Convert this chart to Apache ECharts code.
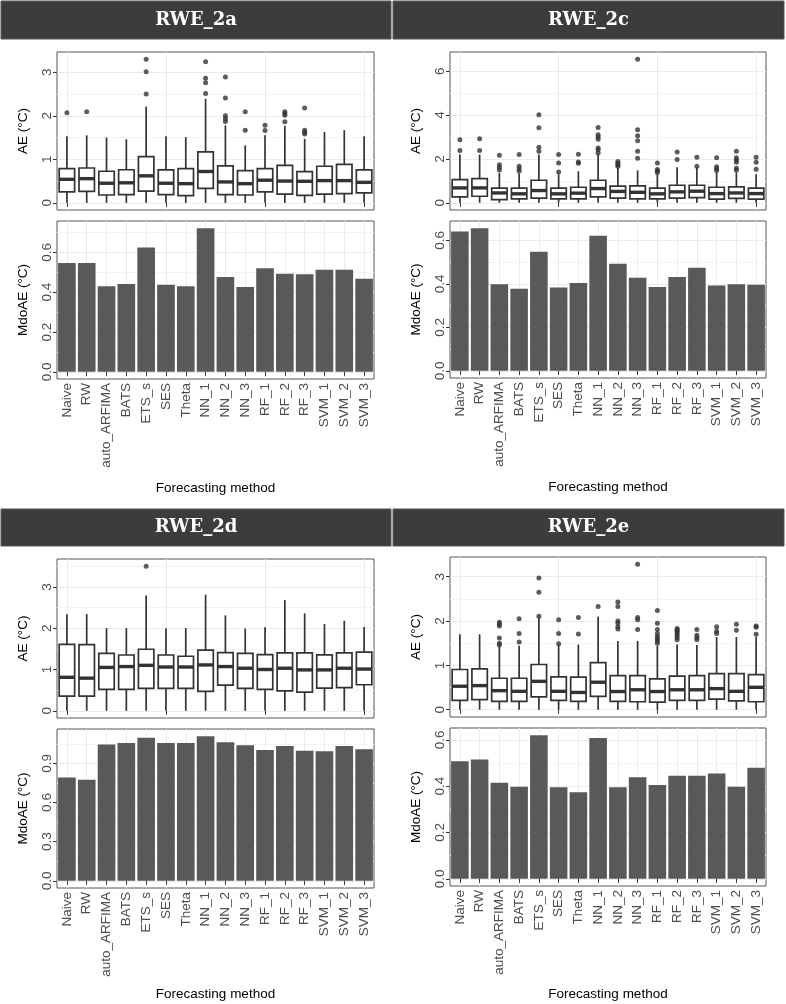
<!DOCTYPE html>
<html>
<head>
<meta charset="utf-8">
<script src="https://cdn.jsdelivr.net/npm/echarts@6/dist/echarts.min.js"></script>
<style>
html,body{margin:0;padding:0;background:#fff;}
#chart{width:786px;height:1004px;}
</style>
</head>
<body>
<div id="chart"></div>
<script>
// ---------------- DATA ----------------
const categories = ['Naive','RW','auto_ARFIMA','BATS','ETS_s','SES','Theta','NN_1','NN_2','NN_3','RF_1','RF_2','RF_3','SVM_1','SVM_2','SVM_3'];
const panelTitles = ['RWE_2a','RWE_2c','RWE_2d','RWE_2e'];

// box stats per method: [lower whisker, Q1, median, Q3, upper whisker]
const box2a = [
  [0,0.25,0.54,0.785,1.53],[0,0.265,0.555,0.80,1.55],[0,0.18,0.45,0.725,1.50],[0,0.19,0.46,0.76,1.46],
  [0,0.27,0.62,1.06,2.21],[0,0.19,0.45,0.755,1.53],[0,0.165,0.44,0.785,1.51],[0,0.33,0.72,1.17,2.39],
  [0,0.19,0.48,0.85,1.78],[0,0.18,0.44,0.74,1.32],[0,0.25,0.52,0.785,1.55],[0,0.20,0.50,0.86,1.77],
  [0,0.17,0.495,0.715,1.47],[0,0.20,0.51,0.84,1.63],[0,0.21,0.51,0.885,1.67],[0,0.23,0.47,0.755,1.53]
];
const out2a = [[0,2.07],[1,2.09],[4,3.30],[4,3.01],[4,2.50],[7,3.24],[7,2.86],[7,2.76],[7,2.51],
  [8,2.89],[8,2.41],[8,2.00],[8,1.93],[8,1.87],[9,2.09],[9,1.67],[10,1.78],[10,1.66],
  [11,2.09],[11,2.05],[11,2.01],[11,1.86],[12,2.18],[12,1.67],[12,1.62],[12,1.58]];
const mdoae2a = [0.547,0.547,0.430,0.441,0.625,0.438,0.430,0.722,0.476,0.426,0.521,0.493,0.491,0.513,0.513,0.468];

const box2c = [
  [0,0.27,0.68,1.06,2.20],[0,0.30,0.68,1.10,2.20],[0,0.15,0.45,0.67,1.36],[0,0.18,0.41,0.67,1.35],
  [0,0.21,0.56,1.03,2.20],[0,0.18,0.41,0.67,1.30],[0,0.18,0.44,0.71,1.44],[0,0.27,0.65,1.03,2.20],
  [0,0.21,0.52,0.76,1.60],[0,0.18,0.48,0.77,1.48],[0,0.18,0.41,0.67,1.30],[0,0.21,0.50,0.80,1.62],
  [0,0.24,0.53,0.80,1.62],[0,0.17,0.42,0.71,1.40],[0,0.20,0.45,0.73,1.40],[0,0.17,0.42,0.67,1.30]
];
const out2c = [[0,2.88],[0,2.39],[1,2.92],[1,2.39],[2,2.17],[2,1.74],[2,1.62],[2,1.50],
  [3,2.20],[3,1.67],[3,1.55],[3,1.45],[4,4.02],[4,3.42],[4,2.53],[4,2.35],
  [5,2.20],[5,1.82],[5,1.41],[6,2.21],[6,1.86],[6,1.80],
  [7,3.44],[7,3.10],[7,3.00],[7,2.90],[7,2.50],[7,2.42],[7,2.27],
  [8,1.88],[8,1.80],[8,1.72],[8,1.67],[9,6.55],[9,3.33],[9,3.06],[9,2.83],[9,2.35],[9,2.03],
  [10,1.82],[10,1.52],[10,1.45],[10,1.38],[11,2.32],[11,1.97],[12,2.08],[12,1.67],
  [13,2.06],[13,1.65],[13,1.55],[13,1.47],[14,2.35],[14,2.05],[14,1.95],[14,1.85],[14,1.58],[14,1.50],
  [15,2.08],[15,1.85],[15,1.53]];
const mdoae2c = [0.641,0.656,0.398,0.377,0.547,0.383,0.404,0.621,0.492,0.428,0.386,0.431,0.474,0.392,0.398,0.396];

const box2d = [
  [0,0.355,0.81,1.61,2.34],[0,0.355,0.79,1.60,2.34],[0,0.52,1.05,1.39,2.00],[0,0.52,1.07,1.35,2.00],
  [0,0.54,1.10,1.49,2.79],[0,0.54,1.06,1.35,2.00],[0,0.54,1.06,1.32,2.00],[0,0.47,1.11,1.47,2.81],
  [0,0.62,1.07,1.41,2.31],[0,0.54,1.03,1.39,1.99],[0,0.52,1.00,1.36,2.02],[0,0.48,1.03,1.40,2.68],
  [0,0.45,0.99,1.40,2.36],[0,0.55,0.99,1.355,2.10],[0,0.56,1.03,1.40,2.18],[0,0.63,1.01,1.42,2.03]
];
const out2d = [[4,3.50]];
const mdoae2d = [0.792,0.774,1.044,1.056,1.097,1.056,1.056,1.108,1.062,1.038,1.003,1.033,0.997,0.992,1.033,1.008];

const box2e = [
  [0,0.21,0.53,0.907,1.70],[0,0.227,0.544,0.92,1.70],[0,0.19,0.43,0.71,1.42],[0,0.19,0.415,0.71,1.44],
  [0,0.29,0.64,1.02,2.08],[0,0.21,0.415,0.74,1.45],[0,0.19,0.39,0.733,1.47],[0,0.30,0.62,1.06,2.10],
  [0,0.19,0.41,0.77,1.55],[0,0.18,0.45,0.77,1.55],[0,0.17,0.41,0.695,1.44],[0,0.21,0.45,0.756,1.47],
  [0,0.21,0.45,0.77,1.46],[0,0.24,0.476,0.816,1.64],[0,0.20,0.415,0.816,1.64],[0,0.18,0.506,0.79,1.64]
];
const out2e = [[2,1.97],[2,1.93],[2,1.89],[2,1.62],[2,1.50],[2,1.46],[3,2.05],[3,1.72],[3,1.53],
  [4,2.97],[4,2.65],[4,2.11],[5,2.03],[5,1.72],[5,1.49],[6,2.08],[6,1.71],[7,2.33],
  [8,2.43],[8,2.33],[8,2.00],[8,1.95],[8,1.87],[8,1.82],[9,3.28],[9,2.08],[9,2.03],[9,1.81],
  [10,2.24],[10,1.95],[10,1.81],[10,1.72],[10,1.65],[10,1.60],[10,1.55],[10,1.50],
  [11,1.83],[11,1.80],[11,1.77],[11,1.73],[11,1.68],[11,1.63],[11,1.58],
  [12,1.81],[12,1.68],[12,1.63],[12,1.58],[13,1.87],[13,1.77],[13,1.72],[14,1.93],[14,1.79],
  [15,1.89],[15,1.86],[15,1.70]];
const mdoae2e = [0.508,0.515,0.415,0.397,0.620,0.395,0.374,0.608,0.395,0.438,0.405,0.445,0.445,0.455,0.397,0.479];

const boxTickStep = [1,2,1,1];
const barTickStep = [0.2,0.2,0.3,0.2];

// ---------------- LAYOUT ----------------
const panels = [
  {box:box2a, out:out2a, bar:mdoae2a, left:57, width:317, boxTop:52, boxH:158, barTop:221, barH:158, bar_x:1, bar_y:1, bar_w:390, bar_h:38, nameGap:102},
  {box:box2c, out:out2c, bar:mdoae2c, left:450, width:316, boxTop:52, boxH:158, barTop:221, barH:157, bar_x:393, bar_y:1, bar_w:391, bar_h:38, nameGap:102},
  {box:box2d, out:out2d, bar:mdoae2d, left:57, width:317, boxTop:559, boxH:159, barTop:729, barH:159, bar_x:1, bar_y:509, bar_w:390, bar_h:37, nameGap:99},
  {box:box2e, out:out2e, bar:mdoae2e, left:450, width:316, boxTop:557, boxH:160, barTop:728, barH:158, bar_x:393, bar_y:509, bar_w:391, bar_h:37, nameGap:101}
];

const FONT = 'Liberation Sans, Arial, sans-serif';
const grids = [], xAxes = [], yAxes = [], series = [], graphics = [];

function tickList(max, step){
  const t=[]; for(let k=0; k*step<=max+1e-9; k++) t.push(Number((k*step).toFixed(3))); return t;
}

function renderBox(params, api){
  const x = api.value(0);
  const lo = api.coord([x, api.value(1)]);
  const q1 = api.coord([x, api.value(2)]);
  const md = api.coord([x, api.value(3)]);
  const q3 = api.coord([x, api.value(4)]);
  const hi = api.coord([x, api.value(5)]);
  const bw = api.size([1,0])[0]*0.78;
  const stroke = '#333333';
  return {type:'group', children:[
    {type:'line', shape:{x1:lo[0],y1:lo[1],x2:q1[0],y2:q1[1]}, style:{stroke:stroke, lineWidth:1.7}},
    {type:'line', shape:{x1:q3[0],y1:q3[1],x2:hi[0],y2:hi[1]}, style:{stroke:stroke, lineWidth:1.7}},
    {type:'rect', shape:{x:q3[0]-bw/2, y:q3[1], width:bw, height:q1[1]-q3[1]}, style:{fill:'#ffffff', stroke:stroke, lineWidth:1.7}},
    {type:'line', shape:{x1:md[0]-bw/2,y1:md[1],x2:md[0]+bw/2,y2:md[1]}, style:{stroke:stroke, lineWidth:3.4}}
  ]};
}

panels.forEach((p, i) => {
  const gBox = grids.length;
  grids.push({left:p.left, top:p.boxTop, width:p.width, height:p.boxH, show:true, backgroundColor:'#fff', borderColor:'#555', borderWidth:1, containLabel:false});
  const gBar = grids.length;
  grids.push({left:p.left, top:p.barTop, width:p.width, height:p.barH, show:true, backgroundColor:'#fff', borderColor:'#555', borderWidth:1, containLabel:false});

  const xCommon = {type:'category', data:categories, boundaryGap:true,
    axisLine:{show:false},
    axisTick:{show:true, alignWithLabel:true, length:4, lineStyle:{color:'#333', width:1}},
    splitLine:{show:true, alignWithLabel:true, lineStyle:{color:'#ebebeb', width:1}}};
  xAxes.push(Object.assign({}, xCommon, {gridIndex:gBox, axisLabel:{show:false}}));
  xAxes.push(Object.assign({}, xCommon, {gridIndex:gBar,
    axisLabel:{show:true, interval:0, rotate:90, fontFamily:FONT, fontSize:13.5, color:'#4d4d4d', margin:4},
    name:'Forecasting method', nameLocation:'middle', nameGap:p.nameGap,
    nameTextStyle:{fontFamily:FONT, fontSize:13.5, color:'#000'}}));

  // y ranges with ggplot-like 5% expansion
  let bmax = 0;
  p.box.forEach(b => { bmax = Math.max(bmax, b[4]); });
  p.out.forEach(o => { bmax = Math.max(bmax, o[1]); });
  let rmax = Math.max.apply(null, p.bar);
  const bs = boxTickStep[i], rs = barTickStep[i];

  function yAxis(grid, max, step, name, fmt){
    const ticks = tickList(max, step);
    return {type:'value', gridIndex:grid, min:-0.05*max, max:1.05*max,
      minInterval:step, maxInterval:step, splitNumber:4,
      axisLine:{show:false},
      axisTick:{show:true, length:4, lineStyle:{color:'#333'}, customValues:ticks},
      axisLabel:{show:true, rotate:90, customValues:ticks, formatter:fmt, fontFamily:FONT, fontSize:13.5, color:'#4d4d4d', margin:3},
      splitLine:{show:true, lineStyle:{color:'#ebebeb', width:1}},
      minorTick:{show:false, splitNumber:2},
      minorSplitLine:{show:true, lineStyle:{color:'#f4f4f4', width:1}},
      name:name, nameLocation:'middle', nameGap:27,
      nameTextStyle:{fontFamily:FONT, fontSize:13.5, color:'#000'}};
  }
  yAxes.push(yAxis(gBox, bmax, bs, 'AE (°C)', v => String(v)));
  yAxes.push(yAxis(gBar, rmax, rs, 'MdoAE (°C)', v => v.toFixed(1)));

  series.push({type:'custom', xAxisIndex:gBox, yAxisIndex:gBox,
    data:p.box.map((b,k)=>[k].concat(b)), encode:{x:0, y:[1,2,3,4,5]}, renderItem:renderBox, z:3, silent:true});
  series.push({type:'scatter', xAxisIndex:gBox, yAxisIndex:gBox, data:p.out, symbol:'circle', symbolSize:5,
    itemStyle:{color:'#333333'}, z:4, silent:true});
  series.push({type:'bar', xAxisIndex:gBar, yAxisIndex:gBar, data:p.bar, barWidth:'89%',
    itemStyle:{color:'#595959'}, silent:true});

  graphics.push({type:'rect', shape:{x:p.bar_x, y:p.bar_y, width:p.bar_w, height:p.bar_h},
    style:{fill:'#3c3c3c', stroke:'#555', lineWidth:1}});
  graphics.push({type:'text', x:p.bar_x + p.bar_w/2, y:p.bar_y + p.bar_h/2,
    style:{text:panelTitles[i], fill:'#fff', font:'bold 18px "DejaVu Serif", serif', textAlign:'center', textVerticalAlign:'middle'}});
});

const chart = echarts.init(document.getElementById('chart'), null, {renderer:'canvas'});
chart.setOption({
  animation:false,
  grid:grids, xAxis:xAxes, yAxis:yAxes, series:series, graphic:graphics
});
</script>
</body>
</html>
